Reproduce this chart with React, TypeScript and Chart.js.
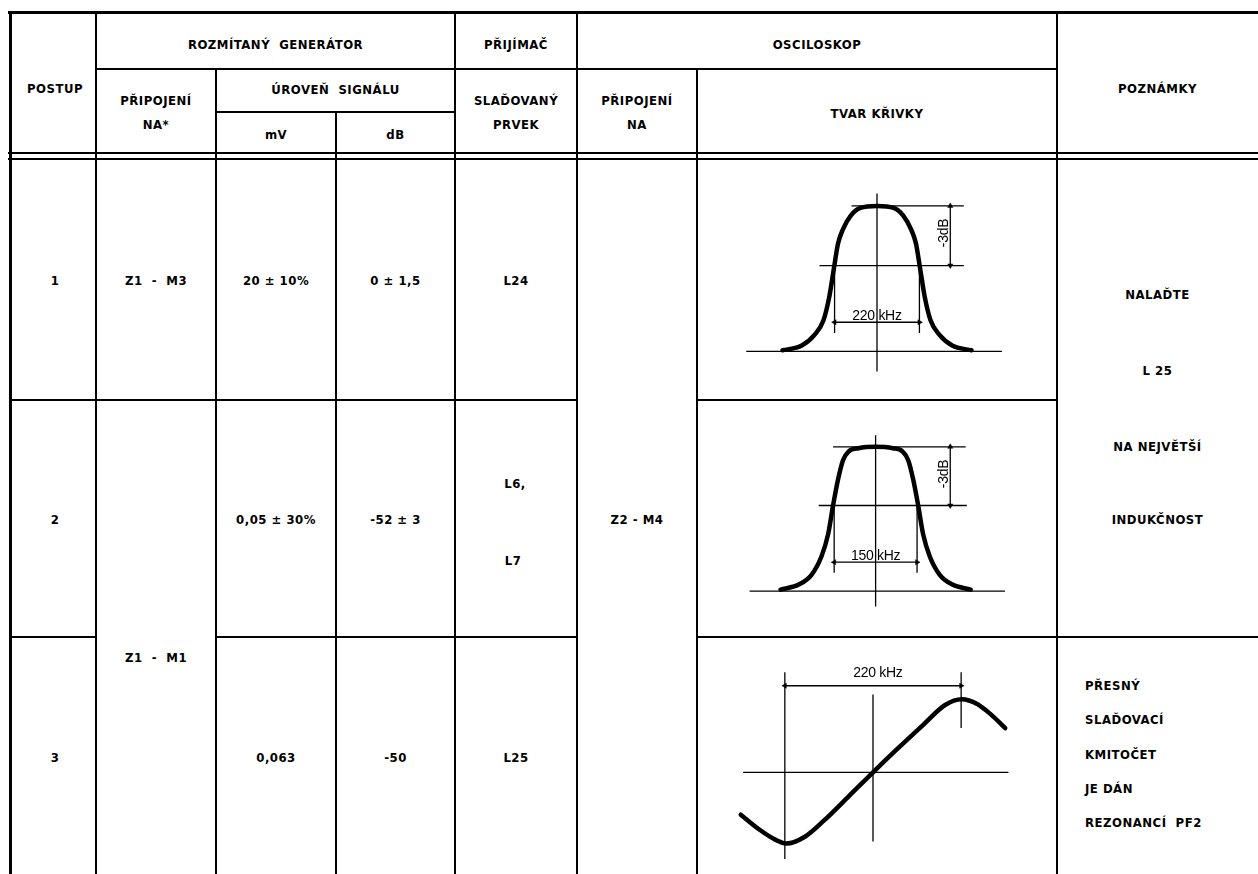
import React, { useEffect, useRef } from "react";
import { Chart, registerables } from "chart.js";
Chart.register(...registerables);

// ---------- data ----------
// curve 1 : single tuned circuit response (x in kHz from centre, y relative level)
const curve1X = [-245, -195, -162, -139, -124, -111, -101, -88, -68, -43, 0, 43, 68, 88, 101, 111, 124, 139, 162, 195, 245];
const curve1Y = [0.007, 0.04, 0.113, 0.212, 0.371, 0.583, 0.742, 0.841, 0.934, 0.987, 1.0, 0.987, 0.934, 0.841, 0.742, 0.583, 0.371, 0.212, 0.113, 0.04, 0.007];
// curve 2 : band-pass response
const curve2X = [-172, -138, -116, -98, -86, -77, -68, -59, -49, -31, 0, 31, 49, 59, 68, 77, 86, 98, 116, 138, 172];
const curve2Y = [0.01, 0.047, 0.113, 0.24, 0.393, 0.593, 0.773, 0.907, 0.967, 0.99, 1.0, 0.99, 0.967, 0.907, 0.773, 0.593, 0.393, 0.24, 0.113, 0.047, 0.01];
// curve 3 : discriminator S-curve
const curve3X = [-165, -141, -122, -108, -85, -61, -30, 0, 30, 61, 90, 111, 130, 146, 165];
const curve3Y = [-0.587, -0.8, -0.933, -0.987, -0.893, -0.667, -0.33, 0, 0.32, 0.64, 0.933, 1.013, 0.947, 0.813, 0.613];

// guide lines [x1, y1, x2, y2] in each chart's data units
const guides1 = [[0, 1.086, 0, -0.139], [-66, 1, 225, 1], [-149, 0.59, 225, 0.59], [-339, 0, 324, 0], [-110, 0.59, -110, 0.126], [110, 0.59, 110, 0.126]];
const arrows1 = [[-110, 0.2, 110, 0.2], [190, 0.59, 190, 1]];
const guides2 = [[0, 1.08, 0, -0.107], [-77, 1, 163, 1], [-103, 0.593, 165, 0.593], [-228, 0, 234, 0], [-75, 0.593, -75, 0.127], [75, 0.593, 75, 0.127]];
const arrows2 = [[-75, 0.2, 75, 0.2], [135, 0.593, 135, 1]];
const guides3 = [[-162, 0, 169, 0], [0, 1.08, 0, -0.96], [-110, 1.387, -110, -1.2], [110, 1.387, 110, 0.613]];
const arrows3 = [[-110, 1.2, 110, 1.2]];

const bandLabels = ["220 kHz", "150 kHz", "220 kHz"];
const levelLabel = "-3dB";

// table texts
const headerTexts = ["POSTUP", "ROZMÍTANÝ  GENERÁTOR", "PŘIPOJENÍ", "NA*", "ÚROVEŇ  SIGNÁLU", "mV", "dB", "PŘIJÍMAČ", "SLAĎOVANÝ", "PRVEK", "OSCILOSKOP", "PŘIPOJENÍ", "NA", "TVAR KŘIVKY", "POZNÁMKY"];
const postup = ["1", "2", "3"];
const pripojeni = ["Z1  -  M3", "Z1  -  M1"];
const levelMV = ["20 ± 10%", "0,05 ± 30%", "0,063"];
const levelDB = ["0 ± 1,5", "-52 ± 3", "-50"];
const prvek = ["L24", "L6,", "L7", "L25"];
const osciloskop = "Z2 - M4";
const notes12 = ["NALAĎTE", "L 25", "NA NEJVĚTŠÍ", "INDUKČNOST"];
const notes3 = ["PŘESNÝ", "SLAĎOVACÍ", "KMITOČET", "JE DÁN", "REZONANCÍ  PF2"];

const FONT = '"DejaVu Sans Condensed", "DejaVu Sans", sans-serif';
const LFONT = '"Liberation Sans", Arial, sans-serif';

type Box = { left: number; top: number; width: number; height: number; xr: number[]; yr: number[] };

function CurveChart(props: {
  box: Box; cx: number[]; cy: number[]; guides: number[][]; arrows: number[][];
  labels: { t: string; x: number; y: number; rot?: boolean }[];
}) {
  const { box, cx, cy, guides, arrows, labels } = props;
  const ref = useRef<HTMLCanvasElement>(null);
  useEffect(() => {
    if (!ref.current) return;
    const datasets: any[] = [];
    datasets.push({
      data: cx.map((x, i) => ({ x, y: cy[i] })),
      borderColor: "#000", borderWidth: 4.5, pointRadius: 0, showLine: true,
      cubicInterpolationMode: "monotone", borderCapStyle: "round", borderJoinStyle: "round",
    });
    guides.forEach((g) => datasets.push({
      data: [{ x: g[0], y: g[1] }, { x: g[2], y: g[3] }],
      borderColor: "#000", borderWidth: 1.3, pointRadius: 0, showLine: true, tension: 0,
    }));
    arrows.forEach((a) => {
      const horiz = a[1] === a[3];
      datasets.push({
        data: [{ x: a[0], y: a[1] }, { x: a[2], y: a[3] }],
        borderColor: "#000", backgroundColor: "#000", borderWidth: 1.3, showLine: true, tension: 0,
        pointStyle: "triangle", pointRadius: 3, pointBorderWidth: 0.5,
        pointRotation: horiz ? [270, 90] : [180, 0],
      });
    });
    const chart = new Chart(ref.current, {
      type: "scatter",
      data: { datasets },
      options: {
        animation: false, responsive: false, events: [],
        layout: { padding: 0 },
        plugins: { legend: { display: false }, tooltip: { enabled: false } },
        scales: {
          x: { type: "linear", display: false, min: box.xr[0], max: box.xr[1] },
          y: { type: "linear", display: false, min: box.yr[0], max: box.yr[1] },
        },
      },
    });
    return () => chart.destroy();
  }, []);
  const px = (x: number) => box.left + ((x - box.xr[0]) / (box.xr[1] - box.xr[0])) * box.width;
  const py = (y: number) => box.top + ((box.yr[1] - y) / (box.yr[1] - box.yr[0])) * box.height;
  return (
    <>
      <canvas ref={ref} width={box.width} height={box.height}
        style={{ position: "absolute", left: box.left, top: box.top, width: box.width, height: box.height }} />
      {labels.map((l, i) => (
        <div key={i} style={{
          position: "absolute", left: px(l.x), top: py(l.y), whiteSpace: "pre",
          transform: `translate(-50%,-50%)${l.rot ? " rotate(-90deg)" : ""}`,
          fontFamily: LFONT, fontSize: 14, color: "#000", lineHeight: 1, letterSpacing: -0.3,
        }}>{l.t}</div>
      ))}
    </>
  );
}

function H({ y, x1, x2, w = 2 }: { y: number; x1: number; x2: number; w?: number }) {
  return <div style={{ position: "absolute", left: x1, top: y - w / 2, width: x2 - x1, height: w, background: "#000" }} />;
}
function V({ x, y1, y2, w = 2 }: { x: number; y1: number; y2: number; w?: number }) {
  return <div style={{ position: "absolute", left: x - w / 2, top: y1, width: w, height: y2 - y1, background: "#000" }} />;
}
function T({ t, x, y, left }: { t: string; x: number; y: number; left?: boolean }) {
  return (
    <div style={{
      position: "absolute", left: x, top: y, whiteSpace: "pre",
      transform: left ? "translate(0,-50%)" : "translate(-50%,-50%)",
      fontFamily: FONT, fontSize: 13, fontWeight: "bold", letterSpacing: 0.5, color: "#000", lineHeight: 1,
    }}>{t}</div>
  );
}

export default function App() {
  const B = 874;
  const c = [10, 96, 216, 336, 455, 577, 697, 1057, 1258];
  const mid = (a: number, b: number) => (a + b) / 2;
  const box1: Box = { left: 697, top: 160, width: 360, height: 240, xr: [-455, 455], yr: [-0.304, 1.285] };
  const box2: Box = { left: 697, top: 400, width: 360, height: 237, xr: [-315, 320], yr: [-0.287, 1.293] };
  const box3: Box = { left: 697, top: 637, width: 360, height: 237, xr: [-214, 224], yr: [-1.347, 1.813] };
  const r1 = 280, r2 = 519, r3 = 757;
  return (
    <div style={{ position: "fixed", left: 0, top: 0, width: 1258, height: 874, overflow: "hidden", background: "#fff" }}>
      {/* horizontal rules */}
      <H y={12} x1={8} x2={1258} w={3} />
      <H y={69} x1={96} x2={1057} />
      <H y={112} x1={216} x2={455} />
      <H y={153} x1={8} x2={1258} />
      <H y={159} x1={8} x2={1258} />
      <H y={400} x1={10} x2={577} />
      <H y={400} x1={697} x2={1057} />
      <H y={637} x1={10} x2={96} />
      <H y={637} x1={216} x2={577} />
      <H y={637} x1={697} x2={1258} />
      {/* vertical rules */}
      <V x={c[0]} y1={11} y2={B} w={3} />
      <V x={c[1]} y1={12} y2={B} />
      <V x={c[2]} y1={69} y2={B} />
      <V x={c[3]} y1={112} y2={B} />
      <V x={c[4]} y1={12} y2={B} />
      <V x={c[5]} y1={12} y2={B} />
      <V x={c[6]} y1={69} y2={B} />
      <V x={c[7]} y1={12} y2={B} />

      {/* header */}
      <T t={headerTexts[0]} x={mid(c[0], c[1]) + 2} y={88} />
      <T t={headerTexts[1]} x={mid(c[1], c[4])} y={44} />
      <T t={headerTexts[2]} x={mid(c[1], c[2])} y={100} />
      <T t={headerTexts[3]} x={mid(c[1], c[2])} y={124} />
      <T t={headerTexts[4]} x={mid(c[2], c[4])} y={89} />
      <T t={headerTexts[5]} x={mid(c[2], c[3])} y={134} />
      <T t={headerTexts[6]} x={mid(c[3], c[4])} y={134} />
      <T t={headerTexts[7]} x={mid(c[4], c[5])} y={44} />
      <T t={headerTexts[8]} x={mid(c[4], c[5])} y={100} />
      <T t={headerTexts[9]} x={mid(c[4], c[5])} y={124} />
      <T t={headerTexts[10]} x={mid(c[5], c[7])} y={44} />
      <T t={headerTexts[11]} x={mid(c[5], c[6])} y={100} />
      <T t={headerTexts[12]} x={mid(c[5], c[6])} y={124} />
      <T t={headerTexts[13]} x={mid(c[6], c[7])} y={113} />
      <T t={headerTexts[14]} x={mid(c[7], c[8])} y={88} />

      {/* body */}
      <T t={postup[0]} x={mid(c[0], c[1]) + 2} y={r1} />
      <T t={postup[1]} x={mid(c[0], c[1]) + 2} y={r2} />
      <T t={postup[2]} x={mid(c[0], c[1]) + 2} y={r3} />
      <T t={pripojeni[0]} x={mid(c[1], c[2])} y={r1} />
      <T t={pripojeni[1]} x={mid(c[1], c[2])} y={657} />
      <T t={levelMV[0]} x={mid(c[2], c[3])} y={r1} />
      <T t={levelMV[1]} x={mid(c[2], c[3])} y={r2} />
      <T t={levelMV[2]} x={mid(c[2], c[3])} y={r3} />
      <T t={levelDB[0]} x={mid(c[3], c[4])} y={r1} />
      <T t={levelDB[1]} x={mid(c[3], c[4])} y={r2} />
      <T t={levelDB[2]} x={mid(c[3], c[4])} y={r3} />
      <T t={prvek[0]} x={mid(c[4], c[5])} y={r1} />
      <T t={prvek[1]} x={mid(c[4], c[5]) - 1} y={483} />
      <T t={prvek[2]} x={mid(c[4], c[5]) - 3} y={560} />
      <T t={prvek[3]} x={mid(c[4], c[5])} y={r3} />
      <T t={osciloskop} x={mid(c[5], c[6])} y={r2} />
      <T t={notes12[0]} x={mid(c[7], c[8])} y={294} />
      <T t={notes12[1]} x={mid(c[7], c[8])} y={370} />
      <T t={notes12[2]} x={mid(c[7], c[8])} y={446} />
      <T t={notes12[3]} x={mid(c[7], c[8])} y={519} />
      {notes3.map((t, i) => <T key={i} t={t} x={1085} y={685 + i * 34.3} left />)}

      <CurveChart box={box1} cx={curve1X} cy={curve1Y} guides={guides1} arrows={arrows1}
        labels={[{ t: bandLabels[0], x: 0, y: 0.26 }, { t: levelLabel, x: 167, y: 0.8, rot: true }]} />
      <CurveChart box={box2} cx={curve2X} cy={curve2Y} guides={guides2} arrows={arrows2}
        labels={[{ t: bandLabels[1], x: 0, y: 0.26 }, { t: levelLabel, x: 119, y: 0.8, rot: true }]} />
      <CurveChart box={box3} cx={curve3X} cy={curve3Y} guides={guides3} arrows={arrows3}
        labels={[{ t: bandLabels[2], x: 6, y: 1.35 }]} />
    </div>
  );
}
